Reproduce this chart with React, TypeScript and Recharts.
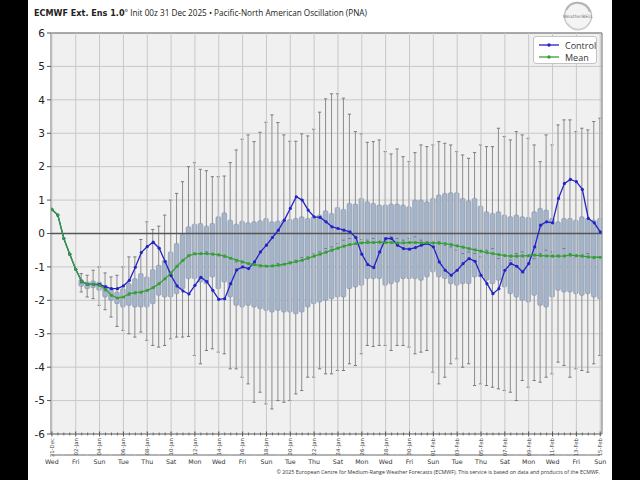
import React from 'react';
import { ComposedChart, Bar, Line, XAxis, YAxis, CartesianGrid, ReferenceLine, ReferenceArea } from 'recharts';

// 12-hourly steps from 31 Dec 00z to 15 Feb 00z (93 steps)
const dates = ['31-Dec', '02-Jan', '04-Jan', '06-Jan', '08-Jan', '10-Jan', '12-Jan', '14-Jan', '16-Jan', '18-Jan', '20-Jan', '22-Jan',
  '24-Jan', '26-Jan', '28-Jan', '30-Jan', '01-Feb', '03-Feb', '05-Feb', '07-Feb', '09-Feb', '11-Feb', '13-Feb', '15-Feb'];
const days = ['Wed', 'Fri', 'Sun', 'Tue', 'Thu', 'Sat', 'Mon', 'Wed', 'Fri', 'Sun', 'Tue', 'Thu',
  'Sat', 'Mon', 'Wed', 'Fri', 'Sun', 'Tue', 'Thu', 'Sat', 'Mon', 'Wed', 'Fri', 'Sun'];
const yTicks = [-6, -5, -4, -3, -2, -1, 0, 1, 2, 3, 4, 5, 6];

const control = [
  0.72, 0.55, -0.15, -0.62, -1.07, -1.44, -1.52, -1.52, -1.52, -1.6,
  -1.65, -1.65, -1.57, -1.4, -1.01, -0.57, -0.39, -0.26, -0.44, -0.84,
  -1.26, -1.57, -1.72, -1.81, -1.55, -1.31, -1.44, -1.7, -1.97, -1.95,
  -1.5, -1.09, -1.0, -1.05, -0.85, -0.55, -0.35, -0.12, 0.1, 0.4,
  0.75, 1.1, 1.0, 0.7, 0.5, 0.48, 0.35, 0.2, 0.15, 0.1,
  0.05, -0.12, -0.62, -0.93, -1.02, -0.55, -0.15, -0.15, -0.35, -0.45,
  -0.47, -0.42, -0.35, -0.3, -0.4, -0.85, -1.1, -1.25, -1.1, -0.9,
  -0.75, -0.83, -1.25, -1.5, -1.8, -1.65, -1.1, -0.9, -0.98, -1.15,
  -0.9, -0.4, 0.25, 0.35, 0.32, 1.05, 1.5, 1.62, 1.55, 1.32,
  0.45, 0.32, 0.05,
];

const mean = [
  0.72, 0.55, -0.15, -0.62, -1.07, -1.44, -1.52, -1.52, -1.55, -1.67,
  -1.85, -1.93, -1.9, -1.8, -1.77, -1.75, -1.7, -1.62, -1.5, -1.35,
  -1.18, -0.98, -0.8, -0.66, -0.61, -0.6, -0.6, -0.62, -0.64, -0.68,
  -0.74, -0.8, -0.85, -0.9, -0.93, -0.96, -0.98, -0.97, -0.95, -0.92,
  -0.88, -0.84, -0.8, -0.74, -0.68, -0.62, -0.56, -0.5, -0.44, -0.38,
  -0.33, -0.3, -0.28, -0.27, -0.27, -0.26, -0.27, -0.27, -0.28, -0.28,
  -0.27, -0.27, -0.28, -0.28, -0.28, -0.29, -0.3, -0.33, -0.37, -0.41,
  -0.45, -0.49, -0.53, -0.57, -0.6, -0.63, -0.66, -0.68, -0.68, -0.67,
  -0.66, -0.65, -0.66, -0.67, -0.68, -0.68, -0.67, -0.65, -0.66, -0.68,
  -0.7, -0.71, -0.71,
];

const boxMax = [
  null, null, null, null, null, -1.2, -1.25, -1.1, -1.0, -1.18,
  -1.3, -1.25, -1.0, -0.7, -0.7, -0.18, 0.35, 0.12, 0.22, 0.55,
  1.0, 1.2, 1.55, 2.0, 2.12, 1.92, 1.88, 1.7, 1.7, 1.72,
  2.12, 2.5, 2.82, 2.95, 2.75, 3.03, 3.33, 3.55, 3.32, 2.95,
  2.76, 2.76, 2.98, 2.92, 3.12, 3.63, 4.03, 4.18, 4.18, 4.05,
  3.57, 3.05, 2.98, 2.73, 2.75, 2.8, 2.45, 2.38, 2.53, 2.3,
  2.15, 2.42, 2.65, 2.6, 2.65, 2.75, 2.7, 2.65, 2.45, 2.35,
  2.25, 2.42, 2.65, 2.6, 2.6, 3.15, 2.9, 2.8, 3.05, 2.95,
  2.85, 2.65, 2.15, 2.95, 2.65, 3.25, 3.4, 3.4, 3.05, 3.15,
  3.1, 3.35, 3.45,
];

const boxQ3 = [
  null, null, null, null, null, -1.38, -1.45, -1.42, -1.45, -1.55,
  -1.65, -1.75, -1.65, -1.5, -1.35, -1.2, -1.3, -1.08, -0.95, -0.8,
  -0.55, -0.3, -0.02, 0.2, 0.28, 0.3, 0.22, 0.3, 0.5, 0.62,
  0.4, 0.28, 0.37, 0.32, 0.35, 0.38, 0.45, 0.35, 0.37, 0.4,
  0.42, 0.45, 0.5, 0.45, 0.5, 0.55, 0.68, 0.6, 0.78, 0.72,
  0.9, 0.88, 1.05, 0.95, 0.9, 0.85, 0.85, 0.88, 0.88, 0.85,
  0.8, 1.0, 1.0, 0.95, 1.05, 1.15, 1.2, 1.22, 1.22, 1.05,
  0.98, 1.05, 0.82, 0.65, 0.6, 0.65, 0.55, 0.5, 0.55, 0.5,
  0.48, 0.65, 0.75, 0.7, 0.45, 0.35, 0.45, 0.45, 0.4, 0.5,
  0.45, 0.4, 0.45,
];

const boxMed = [
  null, null, null, null, null, -1.48, -1.55, -1.5, -1.58, -1.72,
  -1.85, -1.92, -1.92, -1.85, -1.8, -1.78, -1.72, -1.62, -1.5, -1.38,
  -1.2, -1.0, -0.82, -0.65, -0.58, -0.6, -0.55, -0.6, -0.62, -0.7,
  -0.75, -0.85, -0.88, -0.9, -0.95, -1.0, -0.95, -0.98, -0.9, -0.92,
  -0.85, -0.8, -0.72, -0.7, -0.6, -0.55, -0.45, -0.4, -0.3, -0.2,
  -0.15, -0.1, -0.18, -0.2, -0.15, -0.25, -0.2, -0.1, -0.15, -0.2,
  -0.15, -0.1, -0.2, -0.25, -0.3, -0.25, -0.35, -0.4, -0.5, -0.6,
  -0.55, -0.6, -0.7, -0.5, -0.45, -0.75, -0.65, -0.8, -0.6, -0.55,
  -0.7, -0.75, -0.6, -0.5, -0.55, -0.65, -0.45, -0.6, -0.7, -0.65,
  -0.6, -0.75, -0.7,
];

const boxQ1 = [
  null, null, null, null, null, -1.58, -1.65, -1.62, -1.7, -1.9,
  -2.0, -2.1, -2.2, -2.15, -2.2, -2.2, -2.2, -2.1, -1.85, -1.9,
  -1.9, -1.8, -1.65, -1.35, -1.35, -1.45, -1.5, -1.3, -1.65, -1.45,
  -1.9, -2.15, -2.2, -2.15, -2.2, -2.25, -2.3, -2.35, -2.3, -2.35,
  -2.35, -2.4, -2.35, -2.2, -2.1, -2.05, -2.0, -1.95, -1.9, -1.9,
  -1.65, -1.6, -1.55, -1.35, -1.35, -1.35, -1.55, -1.5, -1.45, -1.35,
  -1.35, -1.35, -1.4, -1.3, -1.15, -1.3, -1.35, -1.5, -1.55, -1.5,
  -1.5, -1.3, -1.3, -1.4, -1.5, -1.4, -1.6, -1.8, -1.9, -2.0,
  -2.05, -1.85, -2.15, -2.2, -1.9, -1.7, -1.75, -1.75, -1.8, -1.85,
  -1.8, -1.9, -1.95,
];

const boxMin = [
  null, null, null, null, null, -1.75, -1.9, -1.95, -2.15, -2.28,
  -2.5, -2.78, -2.9, -3.0, -3.1, -2.95, -3.2, -3.35, -3.4, -3.35,
  -3.15, -3.1, -3.1, -3.08, -3.65, -3.9, -3.5, -3.45, -3.55, -3.6,
  -4.05, -4.05, -4.3, -4.5, -5.05, -4.75, -5.1, -5.25, -5.0, -5.05,
  -5.0, -4.8, -4.7, -4.3, -4.3, -4.05, -4.2, -4.2, -4.1, -4.1,
  -3.9, -3.95, -3.6, -3.35, -3.38, -3.35, -3.35, -3.5, -3.35, -3.35,
  -3.4, -3.6, -3.55, -3.5, -4.15, -4.5, -4.3, -3.9, -3.75, -4.0,
  -3.9, -4.55, -4.5, -4.55, -4.6, -4.65, -4.7, -4.75, -5.0, -4.4,
  -4.6, -4.4, -4.45, -4.3, -4.2, -3.85, -3.95, -4.3, -4.05, -4.1,
  -4.15, -3.9, -3.65,
];

const X_MIN = -0.15;
const X_MAX = 92.3;

const rows = control.map((c, i) => ({
  i,
  control: c,
  mean: mean[i],
  spread: boxMax[i] == null ? null : [boxMin[i], boxMax[i]],
  q1: boxQ1[i],
  q3: boxQ3[i],
  med: boxMed[i],
}));

const allSteps = rows.map((r) => r.i);
const majorSteps = allSteps.filter((i) => i % 4 === 0);

// whisker + box drawn inside the bar's [min, max] rectangle
const BoxShape = (props: any) => {
  const { x, y, width, height, payload } = props;
  if (!payload || !payload.spread) return null;
  const [lo, hi] = payload.spread;
  const top = Math.min(y, y + height);
  const bottom = Math.max(y, y + height);
  const at = (v: number) => top + ((hi - v) / (hi - lo)) * (bottom - top);
  const cx = x + width / 2;
  const bw = 4.6;
  const yq3 = at(payload.q3);
  const yq1 = at(payload.q1);
  return (
    <g>
      <line x1={cx} x2={cx} y1={top} y2={bottom} stroke="#8c8c8c" strokeWidth={1} />
      <line x1={cx - 1.6} x2={cx + 1.6} y1={top} y2={top} stroke="#7a7a7a" strokeWidth={1} />
      <line x1={cx - 1.6} x2={cx + 1.6} y1={bottom} y2={bottom} stroke="#7a7a7a" strokeWidth={1} />
      <rect x={cx - bw / 2} y={yq3} width={bw} height={yq1 - yq3} rx={1.2}
        fill="#a5b4c9" stroke="#8391a4" strokeWidth={0.6} />
      <line x1={cx - 1.3} x2={cx + 1.3} y1={at(payload.med)} y2={at(payload.med)} stroke="#5f6877" strokeWidth={0.8} />
    </g>
  );
};

const DateTick = (props: any) => {
  const { x, y, payload } = props;
  const v = payload.value;
  const major = v % 4 === 0;
  if (!major) {
    return <line x1={x} x2={x} y1={y - 1.5} y2={y + 1.5} stroke="#555" strokeWidth={0.8} />;
  }
  const k = v / 4;
  const half = 11.9;
  const left = k === 0 ? x : x - half;
  const right = k === dates.length - 1 ? x : x + half;
  return (
    <g>
      <line x1={x} x2={x} y1={y - 2.5} y2={y + 2.5} stroke="#444" strokeWidth={0.9} />
      <text x={x} y={y + 4} transform={`rotate(-90, ${x}, ${y + 4})`} textAnchor="end" dy="0.35em"
        fontSize={5.4} fontFamily="DejaVu Sans" fill="#444">{dates[k]}</text>
      <line x1={left} x2={right} y1={y + 21} y2={y + 21} stroke="#666" strokeWidth={1} />
      <text x={x} y={y + 30} textAnchor="middle" fontSize={6.3} fontFamily="DejaVu Sans" fill="#333">{days[k]}</text>
    </g>
  );
};

const LegendBox = () => (
  <div style={{
    position: 'absolute', left: 533, top: 36, width: 64, height: 28, boxSizing: 'border-box',
    border: '1px solid #c4c4c4', borderRadius: 3, background: '#fff',
    fontFamily: '"Open Sans", sans-serif', fontSize: 9, color: '#333',
  }}>
    {[{ name: 'Control', color: '#2323c8' }, { name: 'Mean', color: '#35a035' }].map((s, n) => (
      <div key={s.name} style={{ position: 'absolute', left: 5, top: 2 + n * 12, height: 12, display: 'flex', alignItems: 'center' }}>
        <svg width={20} height={8}>
          <line x1={0} x2={20} y1={4} y2={4} stroke={s.color} strokeWidth={1.3} />
          <circle cx={10} cy={4} r={1.7} fill={s.color} />
        </svg>
        <span style={{ marginLeft: 6 }}>{s.name}</span>
      </div>
    ))}
  </div>
);

export default function App() {
  return (
    <div style={{ position: 'fixed', left: 0, top: 0, width: 640, height: 480, background: '#000', overflow: 'hidden' }}>
      <div style={{ position: 'absolute', left: 28, top: 0, width: 584, height: 480, background: '#fff' }} />
      <div style={{ position: 'absolute', left: 0, top: 0 }}>
        <ComposedChart width={640} height={480} data={rows} margin={{ top: 33, right: 38, bottom: 6, left: 21 }}>
          <CartesianGrid vertical={false} stroke="#c8c8c8" fill="#f0f0f0" />
          {majorSteps.map((t) => (
            <ReferenceLine key={t} x={t} stroke="#c8c8c8" strokeWidth={1} />
          ))}
          <XAxis type="number" dataKey="i" domain={[X_MIN, X_MAX]} ticks={allSteps} interval={0}
            tick={(p: any) => <DateTick {...p} />} tickLine={false} tickSize={0} tickMargin={0}
            axisLine={false} height={40} allowDataOverflow />
          <YAxis type="number" domain={[-6, 6]} ticks={yTicks} interval={0} width={30}
            tick={{ fontSize: 10.5, fill: '#222', fontFamily: 'DejaVu Sans' }}
            tickLine={{ stroke: '#555' }} tickSize={4} tickMargin={2} axisLine={false} allowDataOverflow />
          <Bar dataKey="spread" barSize={5} shape={<BoxShape />} isAnimationActive={false} />
          <ReferenceLine y={0} stroke="#555" strokeWidth={1.6} />
          <ReferenceArea x1={X_MIN} x2={X_MAX} y1={-6} y2={6} fill="none" stroke="#707070" strokeWidth={1} />
          <Line dataKey="control" stroke="#2323c8" strokeWidth={1.3} isAnimationActive={false}
            dot={{ r: 1.6, fill: '#2323c8', stroke: 'none' }} />
          <Line dataKey="mean" stroke="#35a035" strokeWidth={1.3} isAnimationActive={false}
            dot={{ r: 1.6, fill: '#35a035', stroke: 'none' }} />
        </ComposedChart>
      </div>
      <svg width={640} height={480} style={{ position: 'absolute', left: 0, top: 0, pointerEvents: 'none' }}>
        <text x={34} y={16} fill="#222">
          <tspan fontFamily="DejaVu Sans" fontWeight="bold" fontSize={8.1}>ECMWF Ext. Ens 1.0</tspan>
          <tspan fontFamily="Open Sans" fontSize={8.2}>° Init 00z 31 Dec 2025 • Pacific-North American Oscillation (PNA)</tspan>
        </text>
        <g>
          <circle cx={578} cy={16} r={13.5} fill="#f4f4f4" stroke="#c9c9c9" strokeWidth={1.5} />
          <path d="M 566 10 A 13 13 0 0 1 590 12" fill="none" stroke="#b5b5b5" strokeWidth={2} />
          <path d="M 568 24 A 12 12 0 0 0 589 23" fill="none" stroke="#d0d0d0" strokeWidth={1.5} />
          <text x={578} y={18} textAnchor="middle" fontSize={4.6} fontFamily="DejaVu Sans" fill="#777">WeatherBELL</text>
        </g>
        <text x={600} y={474} textAnchor="end" fontFamily="Open Sans" fontSize={5.3} fill="#333">
          © 2025 European Centre for Medium-Range Weather Forecasts (ECMWF). This service is based on data and products of the ECMWF.
        </text>
      </svg>
      <LegendBox />
    </div>
  );
}
